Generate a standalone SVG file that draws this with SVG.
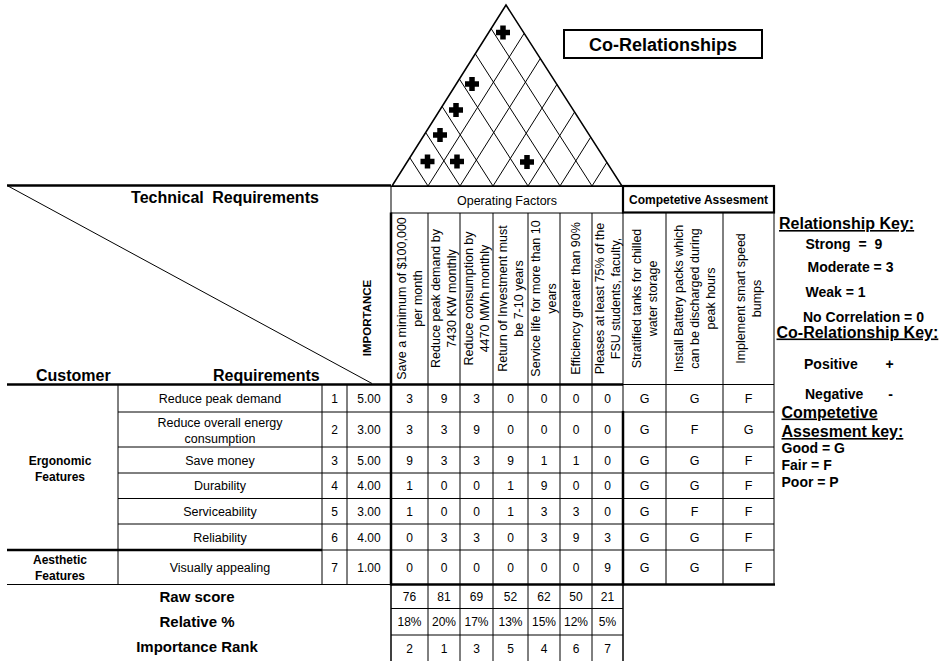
<svg xmlns="http://www.w3.org/2000/svg" width="941" height="661" viewBox="0 0 941 661">
<style>
  text { font-family: "Liberation Sans", Arial, sans-serif; fill: #000; }
  .t { font-size: 12.5px; text-anchor: middle; }
  .n { font-size: 12px; text-anchor: middle; }
  .b { font-weight: bold; }
  .bc { font-weight: bold; text-anchor: middle; }
  .key { font-size: 14px; font-weight: bold; }
  .keyh { font-size: 16px; font-weight: bold; text-decoration: underline; }
  .thin { stroke: #000; stroke-width: 1; fill: none; }
  .med { stroke: #000; stroke-width: 1.5; fill: none; }
  .thick { stroke: #000; stroke-width: 2.5; fill: none; }
</style>
<defs>
  <path id="plus" d="M-2.75,-7h5.5v4.25h4.25v5.5h-4.25v4.25h-5.5v-4.25h-4.25v-5.5h4.25z" fill="#000"/>
</defs>
<rect width="941" height="661" fill="#fff"/>

<g id="roof">
  <polygon class="med" points="392,186 506,5 622,186"/>
  <g class="thin">
    <line x1="428" y1="186" x2="524.2" y2="33.3"/>
    <line x1="460" y1="186" x2="540.3" y2="58.5"/>
    <line x1="493" y1="186" x2="556.9" y2="84.5"/>
    <line x1="528" y1="186" x2="574.6" y2="112"/>
    <line x1="560" y1="186" x2="590.7" y2="137.2"/>
    <line x1="592" y1="186" x2="606.9" y2="162.4"/>
    <line x1="428" y1="186" x2="409.8" y2="157.7"/>
    <line x1="460" y1="186" x2="425.7" y2="132.5"/>
    <line x1="493" y1="186" x2="442.1" y2="106.5"/>
    <line x1="528" y1="186" x2="459.4" y2="79"/>
    <line x1="560" y1="186" x2="475.3" y2="53.8"/>
    <line x1="592" y1="186" x2="491.1" y2="28.6"/>
  </g>
  <use href="#plus" transform="translate(503,32.5)"/>
  <use href="#plus" transform="translate(472,84)"/>
  <use href="#plus" transform="translate(456,110)"/>
  <use href="#plus" transform="translate(440,135)"/>
  <use href="#plus" transform="translate(427.5,161.5)"/>
  <use href="#plus" transform="translate(457,161.5)"/>
  <use href="#plus" transform="translate(527,162)"/>
</g>

<g id="corel-title">
  <rect x="564" y="30" width="198" height="28" stroke="#000" stroke-width="2" fill="none"/>
  <text class="bc" x="663" y="51" font-size="18">Co-Relationships</text>
</g>

<g id="header">
  <line class="thick" x1="7" y1="185.5" x2="391" y2="185.5"/>
  <line class="thin" x1="8" y1="186" x2="372" y2="383.5"/>
  <text class="bc" x="225" y="203" font-size="16" word-spacing="4">Technical Requirements</text>
  <text class="b" x="36" y="381" font-size="16">Customer</text>
  <text class="b" x="213" y="381" font-size="16">Requirements</text>
  <text class="bc" font-size="11.5" transform="translate(371,318) rotate(-90)">IMPORTANCE</text>
  <rect class="thin" x="391" y="186.5" width="232" height="26.5"/>
  <text class="t" x="507" y="204.5">Operating Factors</text>
  <rect x="623" y="186" width="151" height="26.5" stroke="#000" stroke-width="2.2" fill="none"/>
  <text class="bc" x="698.5" y="203.5" font-size="12">Competetive Assesment</text>
</g>

<g id="column-headers" class="t">
  <text transform="translate(409.5,298.5) rotate(-90)"><tspan x="0" y="-3.6">Save a minimum of $100,000</tspan><tspan x="0" y="12.4">per month</tspan></text>
  <text transform="translate(444,298.5) rotate(-90)"><tspan x="0" y="-3.6">Reduce peak demand by</tspan><tspan x="0" y="12.4">7430 KW monthly</tspan></text>
  <text transform="translate(476.5,298.5) rotate(-90)"><tspan x="0" y="-3.6">Reduce consumption by</tspan><tspan x="0" y="12.4">4470 MWh monthly</tspan></text>
  <text transform="translate(510.5,298.5) rotate(-90)"><tspan x="0" y="-3.6">Return of Investment must</tspan><tspan x="0" y="12.4">be 7-10 years</tspan></text>
  <text transform="translate(544,298.5) rotate(-90)"><tspan x="0" y="-3.6">Service life for more than 10</tspan><tspan x="0" y="12.4">years</tspan></text>
  <text transform="translate(576,298.5) rotate(-90)"><tspan x="0" y="4.4">Efficiency greater than 90%</tspan></text>
  <text transform="translate(607.5,298.5) rotate(-90)"><tspan x="0" y="-3.6">Pleases at least 75% of the</tspan><tspan x="0" y="12.4">FSU students, faculty,</tspan></text>
  <text transform="translate(644.5,298.5) rotate(-90)"><tspan x="0" y="-3.6">Stratified tanks for chilled</tspan><tspan x="0" y="12.4">water storage</tspan></text>
  <text transform="translate(694.5,298.5) rotate(-90)"><tspan x="0" y="-11.6">Install Battery packs which</tspan><tspan x="0" y="4.4">can be discharged during</tspan><tspan x="0" y="20.4">peak hours</tspan></text>
  <text transform="translate(748.5,298.5) rotate(-90)"><tspan x="0" y="-3.6">Implement smart speed</tspan><tspan x="0" y="12.4">bumps</tspan></text>
</g>

<g id="grid">
  <g class="thin">
    <line x1="118" y1="384.5" x2="118" y2="584.5"/>
    <line x1="322" y1="384.5" x2="322" y2="584.5"/>
    <line x1="347" y1="384.5" x2="347" y2="584.5"/>
    <line x1="428" y1="213" x2="428" y2="661"/>
    <line x1="460" y1="213" x2="460" y2="661"/>
    <line x1="493" y1="213" x2="493" y2="661"/>
    <line x1="528" y1="213" x2="528" y2="661"/>
    <line x1="560" y1="213" x2="560" y2="661"/>
    <line x1="592" y1="213" x2="592" y2="661"/>
    <line x1="623" y1="213" x2="623" y2="411"/>
    <line x1="666" y1="212.5" x2="666" y2="584.5"/>
    <line x1="723" y1="212.5" x2="723" y2="584.5"/>
    <line x1="774" y1="212.5" x2="774" y2="584.5"/>
    <line x1="623" y1="384.5" x2="774" y2="384.5"/>
    <line x1="118" y1="412" x2="774" y2="412"/>
    <line x1="118" y1="447" x2="774" y2="447"/>
    <line x1="118" y1="473" x2="774" y2="473"/>
    <line x1="118" y1="498.5" x2="774" y2="498.5"/>
    <line x1="118" y1="524" x2="774" y2="524"/>
    <line x1="322" y1="550" x2="774" y2="550"/>
    <line x1="7" y1="584.5" x2="391" y2="584.5"/>
    <line x1="391" y1="608.5" x2="623" y2="608.5"/>
    <line x1="391" y1="635" x2="623" y2="635"/>
  </g>
  <g class="med">
    <line x1="391" y1="584.5" x2="391" y2="661"/>
    <line x1="623" y1="584.5" x2="623" y2="661"/>
  </g>
  <g class="thick">
    <line x1="391" y1="212.5" x2="391" y2="585.5"/>
    <line x1="7" y1="384.5" x2="623" y2="384.5"/>
    <line x1="7" y1="550" x2="322" y2="550"/>
    <line x1="391" y1="584.5" x2="775" y2="584.5"/>
    <line x1="623" y1="411" x2="623" y2="585.5"/>
  </g>
</g>

<g id="customer-rows">
  <text class="b" x="60" y="464.5" font-size="12" text-anchor="middle">Ergonomic</text>
  <text class="b" x="60" y="480.5" font-size="12" text-anchor="middle">Features</text>
  <text class="b" x="60" y="563.5" font-size="12" text-anchor="middle">Aesthetic</text>
  <text class="b" x="60" y="579.5" font-size="12" text-anchor="middle">Features</text>
  <g class="t">
    <text x="220" y="403">Reduce peak demand</text>
    <text x="220" y="427">Reduce overall energy</text>
    <text x="220" y="443">consumption</text>
    <text x="220" y="464.5">Save money</text>
    <text x="220" y="490">Durability</text>
    <text x="220" y="515.5">Serviceability</text>
    <text x="220" y="541.5">Reliability</text>
    <text x="220" y="571.5">Visually appealing</text>
  </g>
  <g class="n">
    <text x="334.5" y="403">1</text><text x="369" y="403">5.00</text>
    <text x="334.5" y="434">2</text><text x="369" y="434">3.00</text>
    <text x="334.5" y="464.5">3</text><text x="369" y="464.5">5.00</text>
    <text x="334.5" y="490">4</text><text x="369" y="490">4.00</text>
    <text x="334.5" y="515.5">5</text><text x="369" y="515.5">3.00</text>
    <text x="334.5" y="541.5">6</text><text x="369" y="541.5">4.00</text>
    <text x="334.5" y="571.5">7</text><text x="369" y="571.5">1.00</text>
  </g>
</g>

<g id="matrix" class="n">
  <text x="409.5" y="403">3</text><text x="444" y="403">9</text><text x="476.5" y="403">3</text><text x="510.5" y="403">0</text><text x="544" y="403">0</text><text x="576" y="403">0</text><text x="607.5" y="403">0</text>
  <text x="409.5" y="434">3</text><text x="444" y="434">3</text><text x="476.5" y="434">9</text><text x="510.5" y="434">0</text><text x="544" y="434">0</text><text x="576" y="434">0</text><text x="607.5" y="434">0</text>
  <text x="409.5" y="464.5">9</text><text x="444" y="464.5">3</text><text x="476.5" y="464.5">3</text><text x="510.5" y="464.5">9</text><text x="544" y="464.5">1</text><text x="576" y="464.5">1</text><text x="607.5" y="464.5">0</text>
  <text x="409.5" y="490">1</text><text x="444" y="490">0</text><text x="476.5" y="490">0</text><text x="510.5" y="490">1</text><text x="544" y="490">9</text><text x="576" y="490">0</text><text x="607.5" y="490">0</text>
  <text x="409.5" y="515.5">1</text><text x="444" y="515.5">0</text><text x="476.5" y="515.5">0</text><text x="510.5" y="515.5">1</text><text x="544" y="515.5">3</text><text x="576" y="515.5">3</text><text x="607.5" y="515.5">0</text>
  <text x="409.5" y="541.5">0</text><text x="444" y="541.5">3</text><text x="476.5" y="541.5">3</text><text x="510.5" y="541.5">0</text><text x="544" y="541.5">3</text><text x="576" y="541.5">9</text><text x="607.5" y="541.5">3</text>
  <text x="409.5" y="571.5">0</text><text x="444" y="571.5">0</text><text x="476.5" y="571.5">0</text><text x="510.5" y="571.5">0</text><text x="544" y="571.5">0</text><text x="576" y="571.5">0</text><text x="607.5" y="571.5">9</text>
</g>

<g id="competitive" class="t">
  <text x="644.5" y="403">G</text><text x="694.5" y="403">G</text><text x="748.5" y="403">F</text>
  <text x="644.5" y="434">G</text><text x="694.5" y="434">F</text><text x="748.5" y="434">G</text>
  <text x="644.5" y="464.5">G</text><text x="694.5" y="464.5">G</text><text x="748.5" y="464.5">F</text>
  <text x="644.5" y="490">G</text><text x="694.5" y="490">G</text><text x="748.5" y="490">F</text>
  <text x="644.5" y="515.5">G</text><text x="694.5" y="515.5">F</text><text x="748.5" y="515.5">F</text>
  <text x="644.5" y="541.5">G</text><text x="694.5" y="541.5">G</text><text x="748.5" y="541.5">F</text>
  <text x="644.5" y="571.5">G</text><text x="694.5" y="571.5">G</text><text x="748.5" y="571.5">F</text>
</g>

<g id="scores">
  <text class="bc" x="197" y="602" font-size="15">Raw score</text>
  <text class="bc" x="197" y="627" font-size="15">Relative %</text>
  <text class="bc" x="197" y="652" font-size="15">Importance Rank</text>
  <g class="n">
    <text x="409.5" y="601">76</text><text x="444" y="601">81</text><text x="476.5" y="601">69</text><text x="510.5" y="601">52</text><text x="544" y="601">62</text><text x="576" y="601">50</text><text x="607.5" y="601">21</text>
    <text x="409.5" y="626">18%</text><text x="444" y="626">20%</text><text x="476.5" y="626">17%</text><text x="510.5" y="626">13%</text><text x="544" y="626">15%</text><text x="576" y="626">12%</text><text x="607.5" y="626">5%</text>
    <text x="409.5" y="652.5">2</text><text x="444" y="652.5">1</text><text x="476.5" y="652.5">3</text><text x="510.5" y="652.5">5</text><text x="544" y="652.5">4</text><text x="576" y="652.5">6</text><text x="607.5" y="652.5">7</text>
  </g>
</g>

<g id="keys">
  <text class="keyh" x="779" y="229">Relationship Key:</text>
  <text class="key" x="805.5" y="249" word-spacing="4">Strong = 9</text>
  <text class="key" x="807.5" y="272">Moderate = 3</text>
  <text class="key" x="805.5" y="297">Weak = 1</text>
  <text class="key" x="803" y="322">No Correlation = 0</text>
  <text class="keyh" x="776.5" y="337.5">Co-Relationship Key:</text>
  <text class="key" x="804" y="368.5">Positive</text>
  <text class="key" x="889.5" y="368.5" text-anchor="middle">+</text>
  <text class="key" x="805" y="398.5">Negative</text>
  <text class="key" x="890.5" y="398.5" text-anchor="middle">-</text>
  <text class="keyh" x="781.5" y="417.5">Competetive</text>
  <text class="keyh" x="781.5" y="437">Assesment key:</text>
  <text class="key" x="781.5" y="453">Good = G</text>
  <text class="key" x="781.5" y="469.5">Fair = F</text>
  <text class="key" x="781.5" y="487">Poor = P</text>
</g>
</svg>
